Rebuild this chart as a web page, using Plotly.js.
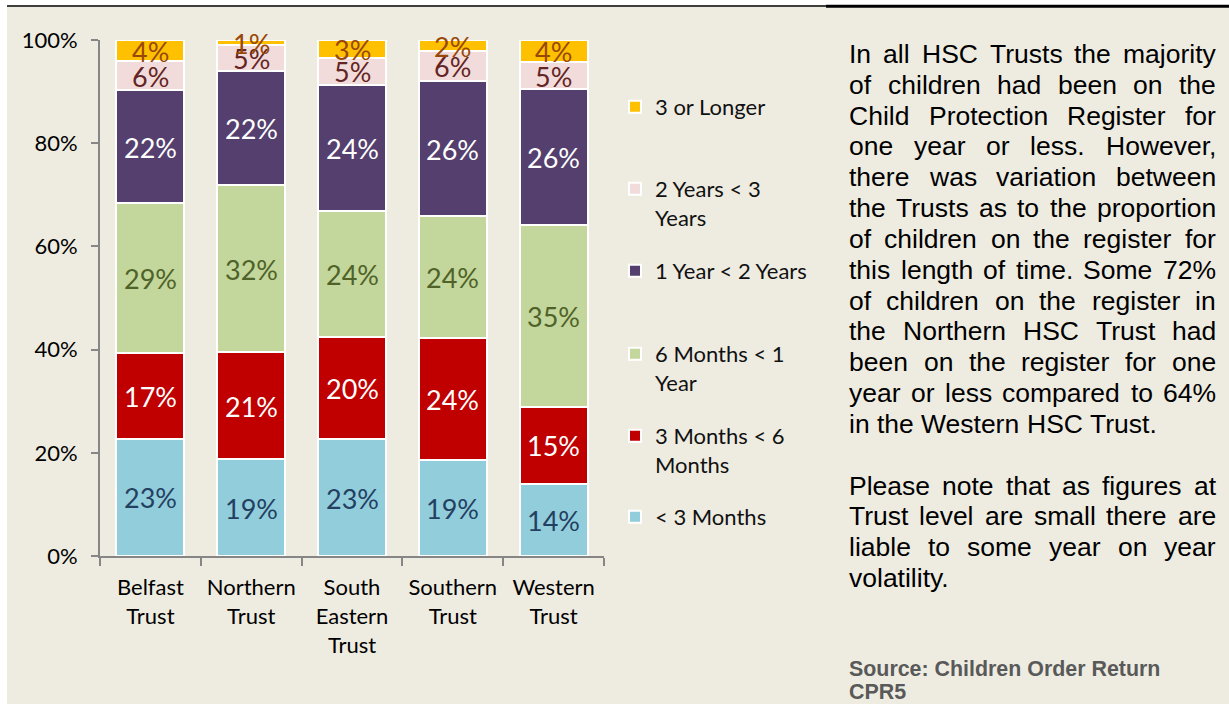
<!DOCTYPE html>
<html>
<head>
<meta charset="utf-8">
<script src="https://cdn.plot.ly/plotly-3.0.1.min.js"></script>
<style>
  html, body { margin: 0; padding: 0; background: #ffffff; }
  #chart { width: 1229px; height: 704px; }
</style>
</head>
<body>
<div id="chart"></div>
<script>
// ---------------- DATA ----------------
const categories = ['Belfast<br>Trust', 'Northern<br>Trust', 'South<br>Eastern<br>Trust', 'Southern<br>Trust', 'Western<br>Trust'];

const seriesNames = ['&lt; 3 Months', '3 Months &lt; 6<br>Months', '6 Months &lt; 1<br>Year', '1 Year &lt; 2 Years', '2 Years &lt; 3<br>Years', '3 or Longer'];

const lessThan3Months   = [22.7, 18.8, 22.6, 18.6, 14.0];
const months3to6        = [16.6, 20.7, 19.9, 23.6, 14.9];
const months6to1Year    = [29.1, 32.4, 24.4, 23.6, 35.2];
const year1to2          = [21.9, 22.1, 24.3, 26.2, 26.4];
const years2to3         = [ 5.6,  5.0,  5.4,  5.8,  5.2];
const years3OrLonger    = [ 4.1,  1.0,  3.4,  2.2,  4.3];

const yTickValues = [0, 20, 40, 60, 80, 100];
const yTickLabels = ['0%', '20%', '40%', '60%', '80%', '100%'];

const paragraphLines = [
  'In all HSC Trusts the majority',
  'of children had been on the',
  'Child Protection Register for',
  'one year or less. However,',
  'there was variation between',
  'the Trusts as to the proportion',
  'of children on the register for',
  'this length of time. Some 72%',
  'of children on the register in',
  'the Northern HSC Trust had',
  'been on the register for one',
  'year or less compared to 64%',
  'in the Western HSC Trust.',
  '',
  'Please note that as figures at',
  'Trust level are small there are',
  'liable to some year on year',
  'volatility.'
];
const lastLinesOfParagraph = [12, 17];
const sourceLines = ['Source: Children Order Return', 'CPR5'];

// ---------------- STYLE ----------------
const allSeries = [lessThan3Months, months3to6, months6to1Year, year1to2, years2to3, years3OrLonger];
const colors = ['#92CDDC', '#C00000', '#C3D69B', '#543F6E', '#F2DCDB', '#FFC000'];
const labelColors = ['#244061', '#FFFFFF', '#4F6228', '#FFFFFF', '#632523', '#984807'];
const BG = '#EEECE1';
const CHART_FONT = 'Lato, "Open Sans", sans-serif';

const W = 1229, H = 704;
const L = 100, R = 604, T = 40, B = 556;
const px2x = p => (p - L) / (R - L);
const px2y = p => (B - p) / (B - T);

// ---------------- TRACES ----------------
const legendKeys = ['legend6', 'legend5', 'legend4', 'legend3', 'legend2', 'legend'];
const barTraces = allSeries.map((vals, i) => ({
  type: 'bar',
  name: seriesNames[i],
  x: categories,
  y: vals,
  marker: { color: colors[i], line: { color: '#FFFFFF', width: 2 } },
  hoverinfo: 'skip',
  legend: legendKeys[i]
}));

const annotations = [];

// data labels: centred in each stacked segment, placed through the axis scales
const cumulative = categories.map(() => 0);
allSeries.forEach((vals, i) => {
  vals.forEach((v, k) => {
    annotations.push({
      xref: 'x', yref: 'y',
      x: categories[k], y: cumulative[k] + v / 2,
      text: Math.round(v) + '%',
      showarrow: false, xanchor: 'center', yanchor: 'middle', yshift: -0.5,
      font: { family: CHART_FONT, size: 27, color: labelColors[i] }
    });
    cumulative[k] += v;
  });
});

// ---------------- LEGENDS ----------------
const legendFirstLineY = [107, 189, 271, 354, 436, 517]; // top to bottom: 3+, 2-3, 1-2, 6m-1y, 3-6m, <3m
const legendOrderTopDown = ['legend', 'legend2', 'legend3', 'legend4', 'legend5', 'legend6'];
const legendLayout = {};
legendOrderTopDown.forEach((k, idx) => {
  legendLayout[k] = {
    x: px2x(615), y: px2y(legendFirstLineY[idx] - 21),
    xanchor: 'left', yanchor: 'top',
    bgcolor: 'rgba(0,0,0,0)', borderwidth: 0,
    font: { family: CHART_FONT, size: 22, color: '#111111' },
    valign: 'top', itemwidth: 30
  };
});

// ---------------- TEXT ANNOTATIONS ----------------
const PARA_FONT_SIZE = 26.5;
const PARA_LEFT = 849, PARA_RIGHT = 1216, PARA_Y0 = 54, PARA_PITCH = 30.83;
const canvas = document.createElement('canvas');
const ctx = canvas.getContext('2d');
ctx.font = PARA_FONT_SIZE + 'px "Liberation Sans"';
const spaceW = ctx.measureText(' ').width;

paragraphLines.forEach((line, i) => {
  if (!line) return;
  const yc = PARA_Y0 + i * PARA_PITCH;
  const words = line.split(' ');
  const widths = words.map(w => ctx.measureText(w).width);
  const total = widths.reduce((a, b) => a + b, 0);
  const justify = lastLinesOfParagraph.indexOf(i) < 0 && words.length > 1;
  const gap = justify ? (PARA_RIGHT - PARA_LEFT - total) / (words.length - 1) : spaceW;
  let xp = PARA_LEFT;
  words.forEach((w, j) => {
    annotations.push({
      xref: 'paper', yref: 'paper',
      x: px2x(xp - 2), y: px2y(yc),
      xanchor: 'left', yanchor: 'middle',
      text: w, showarrow: false,
      font: { family: '"Liberation Sans", Arial, sans-serif', size: PARA_FONT_SIZE, color: '#000000' }
    });
    xp += widths[j] + gap;
  });
});

const sourceY = [669, 692];
sourceLines.forEach((s, i) => {
  annotations.push({
    xref: 'paper', yref: 'paper',
    x: px2x(PARA_LEFT - 2), y: px2y(sourceY[i]),
    xanchor: 'left', yanchor: 'middle',
    text: '<b>' + s + '</b>', showarrow: false,
    font: { family: '"Liberation Sans", Arial, sans-serif', size: 21.4, color: '#595959' }
  });
});

// ---------------- SHAPES (page frame) ----------------
const shapes = [
  { type: 'rect', xref: 'paper', yref: 'paper', x0: px2x(0), x1: px2x(W), y0: px2y(0), y1: px2y(6.5),
    fillcolor: '#FFFFFF', line: { width: 0 } },
  { type: 'rect', xref: 'paper', yref: 'paper', x0: px2x(0), x1: px2x(7), y0: px2y(0), y1: px2y(H),
    fillcolor: '#FFFFFF', line: { width: 0 } },
  { type: 'line', xref: 'paper', yref: 'paper', x0: px2x(7), x1: px2x(826), y0: px2y(6), y1: px2y(6),
    line: { color: '#000000', width: 1.5 } },
  { type: 'line', xref: 'paper', yref: 'paper', x0: px2x(826), x1: px2x(W), y0: px2y(6.3), y1: px2y(6.3),
    line: { color: '#000000', width: 3 } }
];

// ---------------- LAYOUT ----------------
const layout = Object.assign({
  width: W, height: H,
  margin: { l: L, r: W - R, t: T, b: H - B, pad: 0 },
  paper_bgcolor: BG,
  plot_bgcolor: BG,
  barmode: 'stack',
  bargap: 0.325,
  font: { family: CHART_FONT, size: 22, color: '#000000' },
  xaxis: {
    type: 'category',
    showline: true, linecolor: '#868686', linewidth: 2,
    ticks: 'outside', tickson: 'boundaries', ticklen: 8, tickcolor: '#868686', tickwidth: 2,
    showgrid: false, zeroline: false,
    tickfont: { family: CHART_FONT, size: 22, color: '#000000' },
    ticklabelstandoff: 11
  },
  yaxis: {
    range: [0, 100],
    tickvals: yTickValues, ticktext: yTickLabels,
    showline: true, linecolor: '#868686', linewidth: 2,
    ticks: 'outside', ticklen: 7, tickcolor: '#868686', tickwidth: 2,
    showgrid: false, zeroline: false,
    tickfont: { family: CHART_FONT, size: 22, color: '#000000' },
    ticklabelstandoff: 9
  },
  showlegend: true,
  annotations: annotations,
  shapes: shapes
}, legendLayout);

Plotly.newPlot('chart', barTraces, layout, { displayModeBar: false, staticPlot: true });
</script>
</body>
</html>
